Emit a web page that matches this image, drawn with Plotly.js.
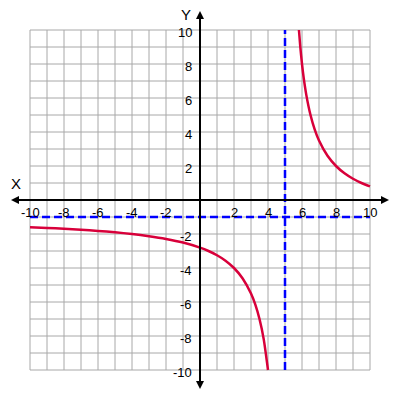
<!DOCTYPE html>
<html>
<head>
<meta charset="utf-8">
<script src="https://cdn.plot.ly/plotly-3.0.1.min.js"></script>
<style>html,body{margin:0;padding:0;background:#fff}#chart{width:400px;height:400px}</style>
</head>
<body>
<div id="chart"></div>
<script>
// Data
const lowerX = [-10,-9,-8,-7,-6,-5,-4,-3,-2,-1,0,0.5,1,1.5,2,2.5,3,3.25,3.5,3.75,4];
const lowerY = [-1.6,-1.64,-1.69,-1.75,-1.82,-1.9,-2.0,-2.13,-2.29,-2.5,-2.8,-3.0,-3.25,-3.57,-4.0,-4.6,-5.5,-6.14,-7.0,-8.2,-10];
const upperX = [5.82,5.9,6,6.1,6.25,6.5,6.75,7,7.5,8,8.5,9,9.5,10];
const upperY = [10,9.0,8.0,7.18,6.2,5.0,4.14,3.5,2.6,2.0,1.57,1.25,1.0,0.8];
const vAsymX = [5,5];
const vAsymY = [-10,10];
const hAsymX = [-10,10];
const hAsymY = [-1,-1];
const xTickVals = [-10,-8,-6,-4,-2,2,4,6,8,10];
const yTickVals = [10,8,6,4,2,-2,-4,-6,-8,-10];
const gridVals = [-10,-9,-8,-7,-6,-5,-4,-3,-2,-1,0,1,2,3,4,5,6,7,8,9,10];

const U = 200/17; // half-range so one unit = 17px
const px = 1/17;

const shapes = [];
gridVals.forEach(v => {
  shapes.push({type:'line', x0:v, x1:v, y0:-10, y1:10, line:{color:'#a8a8a8', width:1}, layer:'below'});
  shapes.push({type:'line', y0:v, y1:v, x0:-10, x1:10, line:{color:'#a8a8a8', width:1}, layer:'below'});
});
const tip = 189*px, hl = 8*px, hw = 4*px;
// axes lines
shapes.push({type:'line', x0:-tip+hl*0.5, x1:tip-hl*0.5, y0:0, y1:0, line:{color:'#000', width:2}});
shapes.push({type:'line', y0:-tip+hl*0.5, y1:tip-hl*0.5, x0:0, x1:0, line:{color:'#000', width:2}});
// arrowheads
const tri = (pts) => ({type:'path', path:'M'+pts.map(p=>p[0]+','+p[1]).join(' L')+' Z', fillcolor:'#000', line:{color:'#000', width:0}});
shapes.push(tri([[-tip,0],[-tip+hl,hw],[-tip+hl,-hw]]));
shapes.push(tri([[tip,0],[tip-hl,hw],[tip-hl,-hw]]));
shapes.push(tri([[0,tip],[hw,tip-hl],[-hw,tip-hl]]));
shapes.push(tri([[0,-tip],[hw,-tip+hl],[-hw,-tip+hl]]));

const font = {family:'Liberation Sans, Arial, sans-serif', size:13, color:'#000'};
const annotations = [];
xTickVals.forEach(v => annotations.push({x:v, y:0, xref:'x', yref:'y', text:String(v), showarrow:false, xanchor:'center', yanchor:'middle', yshift:-12.5, font:font}));
yTickVals.forEach(v => annotations.push({x:0, y:v, xref:'x', yref:'y', text:String(v), showarrow:false, xanchor:'right', yanchor:'middle', xshift:-6, yshift:-2, font:font}));
annotations.push({x:-184*px, y:17*px, xref:'x', yref:'y', text:'X', showarrow:false, xanchor:'center', yanchor:'middle', font:{family:font.family, size:15, color:'#000'}});
annotations.push({x:-14*px, y:186*px, xref:'x', yref:'y', text:'Y', showarrow:false, xanchor:'center', yanchor:'middle', font:{family:font.family, size:15, color:'#000'}});

const curveLine = {color:'#d8003a', width:2.5, shape:'spline', smoothing:0.6};
const dashLine = {color:'#0000ff', width:2.5, dash:'8px,4px'};
const traces = [
  {x:hAsymX, y:hAsymY, mode:'lines', line:dashLine, hoverinfo:'skip'},
  {x:vAsymX, y:vAsymY, mode:'lines', line:dashLine, hoverinfo:'skip'},
  {x:lowerX, y:lowerY, mode:'lines', line:curveLine},
  {x:upperX, y:upperY, mode:'lines', line:curveLine}
];

const axis = {range:[-U,U], showgrid:false, zeroline:false, showticklabels:false, ticks:'', showline:false, fixedrange:true};
const layout = {
  width:400, height:400,
  margin:{l:0,r:0,t:0,b:0},
  paper_bgcolor:'#fff', plot_bgcolor:'#fff',
  showlegend:false,
  xaxis:Object.assign({}, axis),
  yaxis:Object.assign({}, axis),
  shapes:shapes,
  annotations:annotations
};
Plotly.newPlot('chart', traces, layout, {staticPlot:true, displayModeBar:false});
</script>
</body>
</html>
